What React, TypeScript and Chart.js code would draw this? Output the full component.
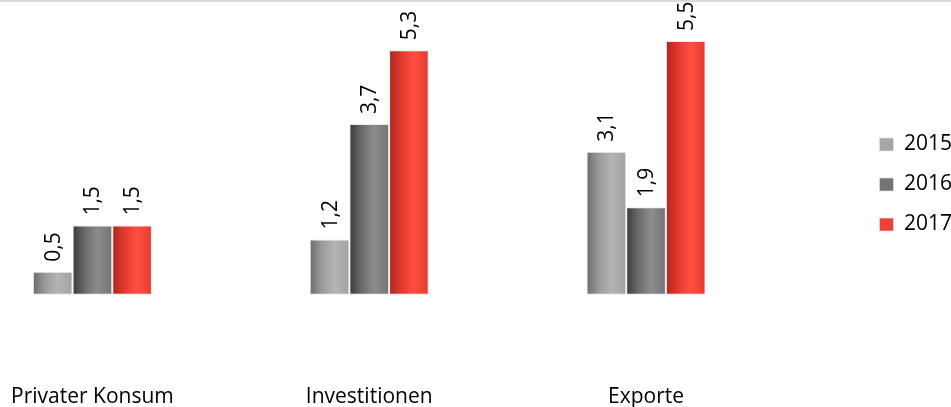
import React, { useEffect, useRef } from "react";
import { Chart, registerables } from "chart.js";

Chart.register(...registerables);

const categories = ["Privater Konsum", "Investitionen", "Exporte"];
const seriesNames = ["2015", "2016", "2017"];
const values2015 = [0.5, 1.2, 3.1];
const values2016 = [1.5, 3.7, 1.9];
const values2017 = [1.5, 5.3, 5.5];

const legendColors = ["#a6a6a6", "#737373", "#ee4136"];
const gradientStops = [
  ["#6b6b6b", "#9a9a9a", "#b4b4b4", "#a2a2a2"],
  ["#3a3a3a", "#6a6a6a", "#8c8c8c", "#747474"],
  ["#a82a20", "#e0392d", "#ff4f40", "#e63a2f"],
];

const FONT = "'Open Sans', sans-serif";
const FS = 21;

const gradientPlugin = {
  id: "cylGradient",
  beforeDatasetsDraw(chart: any) {
    const ctx = chart.ctx;
    chart.data.datasets.forEach((_ds: any, di: number) => {
      const meta = chart.getDatasetMeta(di);
      const stops = gradientStops[di];
      meta.data.forEach((bar: any) => {
        const { x, width } = bar.getProps(["x", "width"], true);
        const g = ctx.createLinearGradient(x - width / 2, 0, x + width / 2, 0);
        g.addColorStop(0, stops[0]);
        g.addColorStop(0.3, stops[1]);
        g.addColorStop(0.62, stops[2]);
        g.addColorStop(1, stops[3]);
        bar.options = { ...bar.options, backgroundColor: g };
      });
    });
  },
};

const labelPlugin = {
  id: "rotLabels",
  afterDatasetsDraw(chart: any) {
    const ctx = chart.ctx;
    ctx.save();
    ctx.font = `${FS}px ${FONT}`;
    ctx.fillStyle = "#000";
    ctx.textAlign = "left";
    ctx.textBaseline = "middle";
    chart.data.datasets.forEach((ds: any, di: number) => {
      const meta = chart.getDatasetMeta(di);
      meta.data.forEach((bar: any, i: number) => {
        const { x, y } = bar.getProps(["x", "y"], true);
        const txt = String(ds.data[i]).replace(".", ",");
        ctx.save();
        ctx.translate(x + 1, y - 10);
        ctx.rotate(-Math.PI / 2);
        ctx.fillText(txt, 0, 0);
        ctx.restore();
      });
    });
    ctx.restore();
  },
};

export default function App() {
  const ref = useRef<HTMLCanvasElement>(null);
  useEffect(() => {
    if (!ref.current) return;
    const data = [values2015, values2016, values2017];
    const chart = new Chart(ref.current, {
      type: "bar",
      data: {
        labels: categories,
        datasets: seriesNames.map((n, i) => ({
          label: n,
          data: data[i],
          backgroundColor: legendColors[i],
          borderColor: "rgba(225,225,225,0.7)",
          borderWidth: 1,
          borderSkipped: false,
          barPercentage: 1,
          categoryPercentage: 0.43,
        })),
      },
      options: {
        animation: false,
        responsive: false,
        maintainAspectRatio: false,
        layout: { padding: { top: 18, left: 0, right: 0, bottom: 0 } },
        plugins: {
          tooltip: { enabled: false },
          legend: {
            position: "right",
            align: "start",
            title: {
              display: true,
              text: " ",
              font: { family: FONT, size: 10 },
              padding: { top: 85, bottom: 0 },
            },
            labels: {
              boxWidth: 14,
              boxHeight: 13,
              padding: 19,
              color: "#000",
              font: { family: FONT, size: FS },
            },
          },
        },
        scales: {
          x: {
            grid: { display: false, drawTicks: false, tickLength: 0 },
            border: { display: false },
            ticks: {
              color: "#000",
              font: { family: FONT, size: FS },
              padding: 20,
              maxRotation: 0,
              autoSkip: false,
            },
            afterFit: (s: any) => {
              s.height = 43;
            },
          },
          y: {
            display: false,
            min: -1.5,
            max: 6,
          },
          yR: {
            type: "linear",
            position: "right",
            display: true,
            grid: { display: false },
            border: { display: false },
            ticks: { display: false },
            afterFit: (s: any) => {
              s.width = 76;
            },
          },
        },
      } as any,
      plugins: [gradientPlugin, labelPlugin],
    });
    return () => chart.destroy();
  }, []);

  return (
    <>
      <div
        style={{
          position: "fixed",
          left: 0,
          top: 0,
          width: 951,
          height: 2,
          background: "#d9d9d9",
        }}
      />
      <div
        style={{
          position: "fixed",
          left: -46,
          top: 0,
          width: 1008,
          height: 407,
        }}
      >
        <canvas ref={ref} width={1008} height={407} style={{ display: "block" }} />
      </div>
    </>
  );
}
